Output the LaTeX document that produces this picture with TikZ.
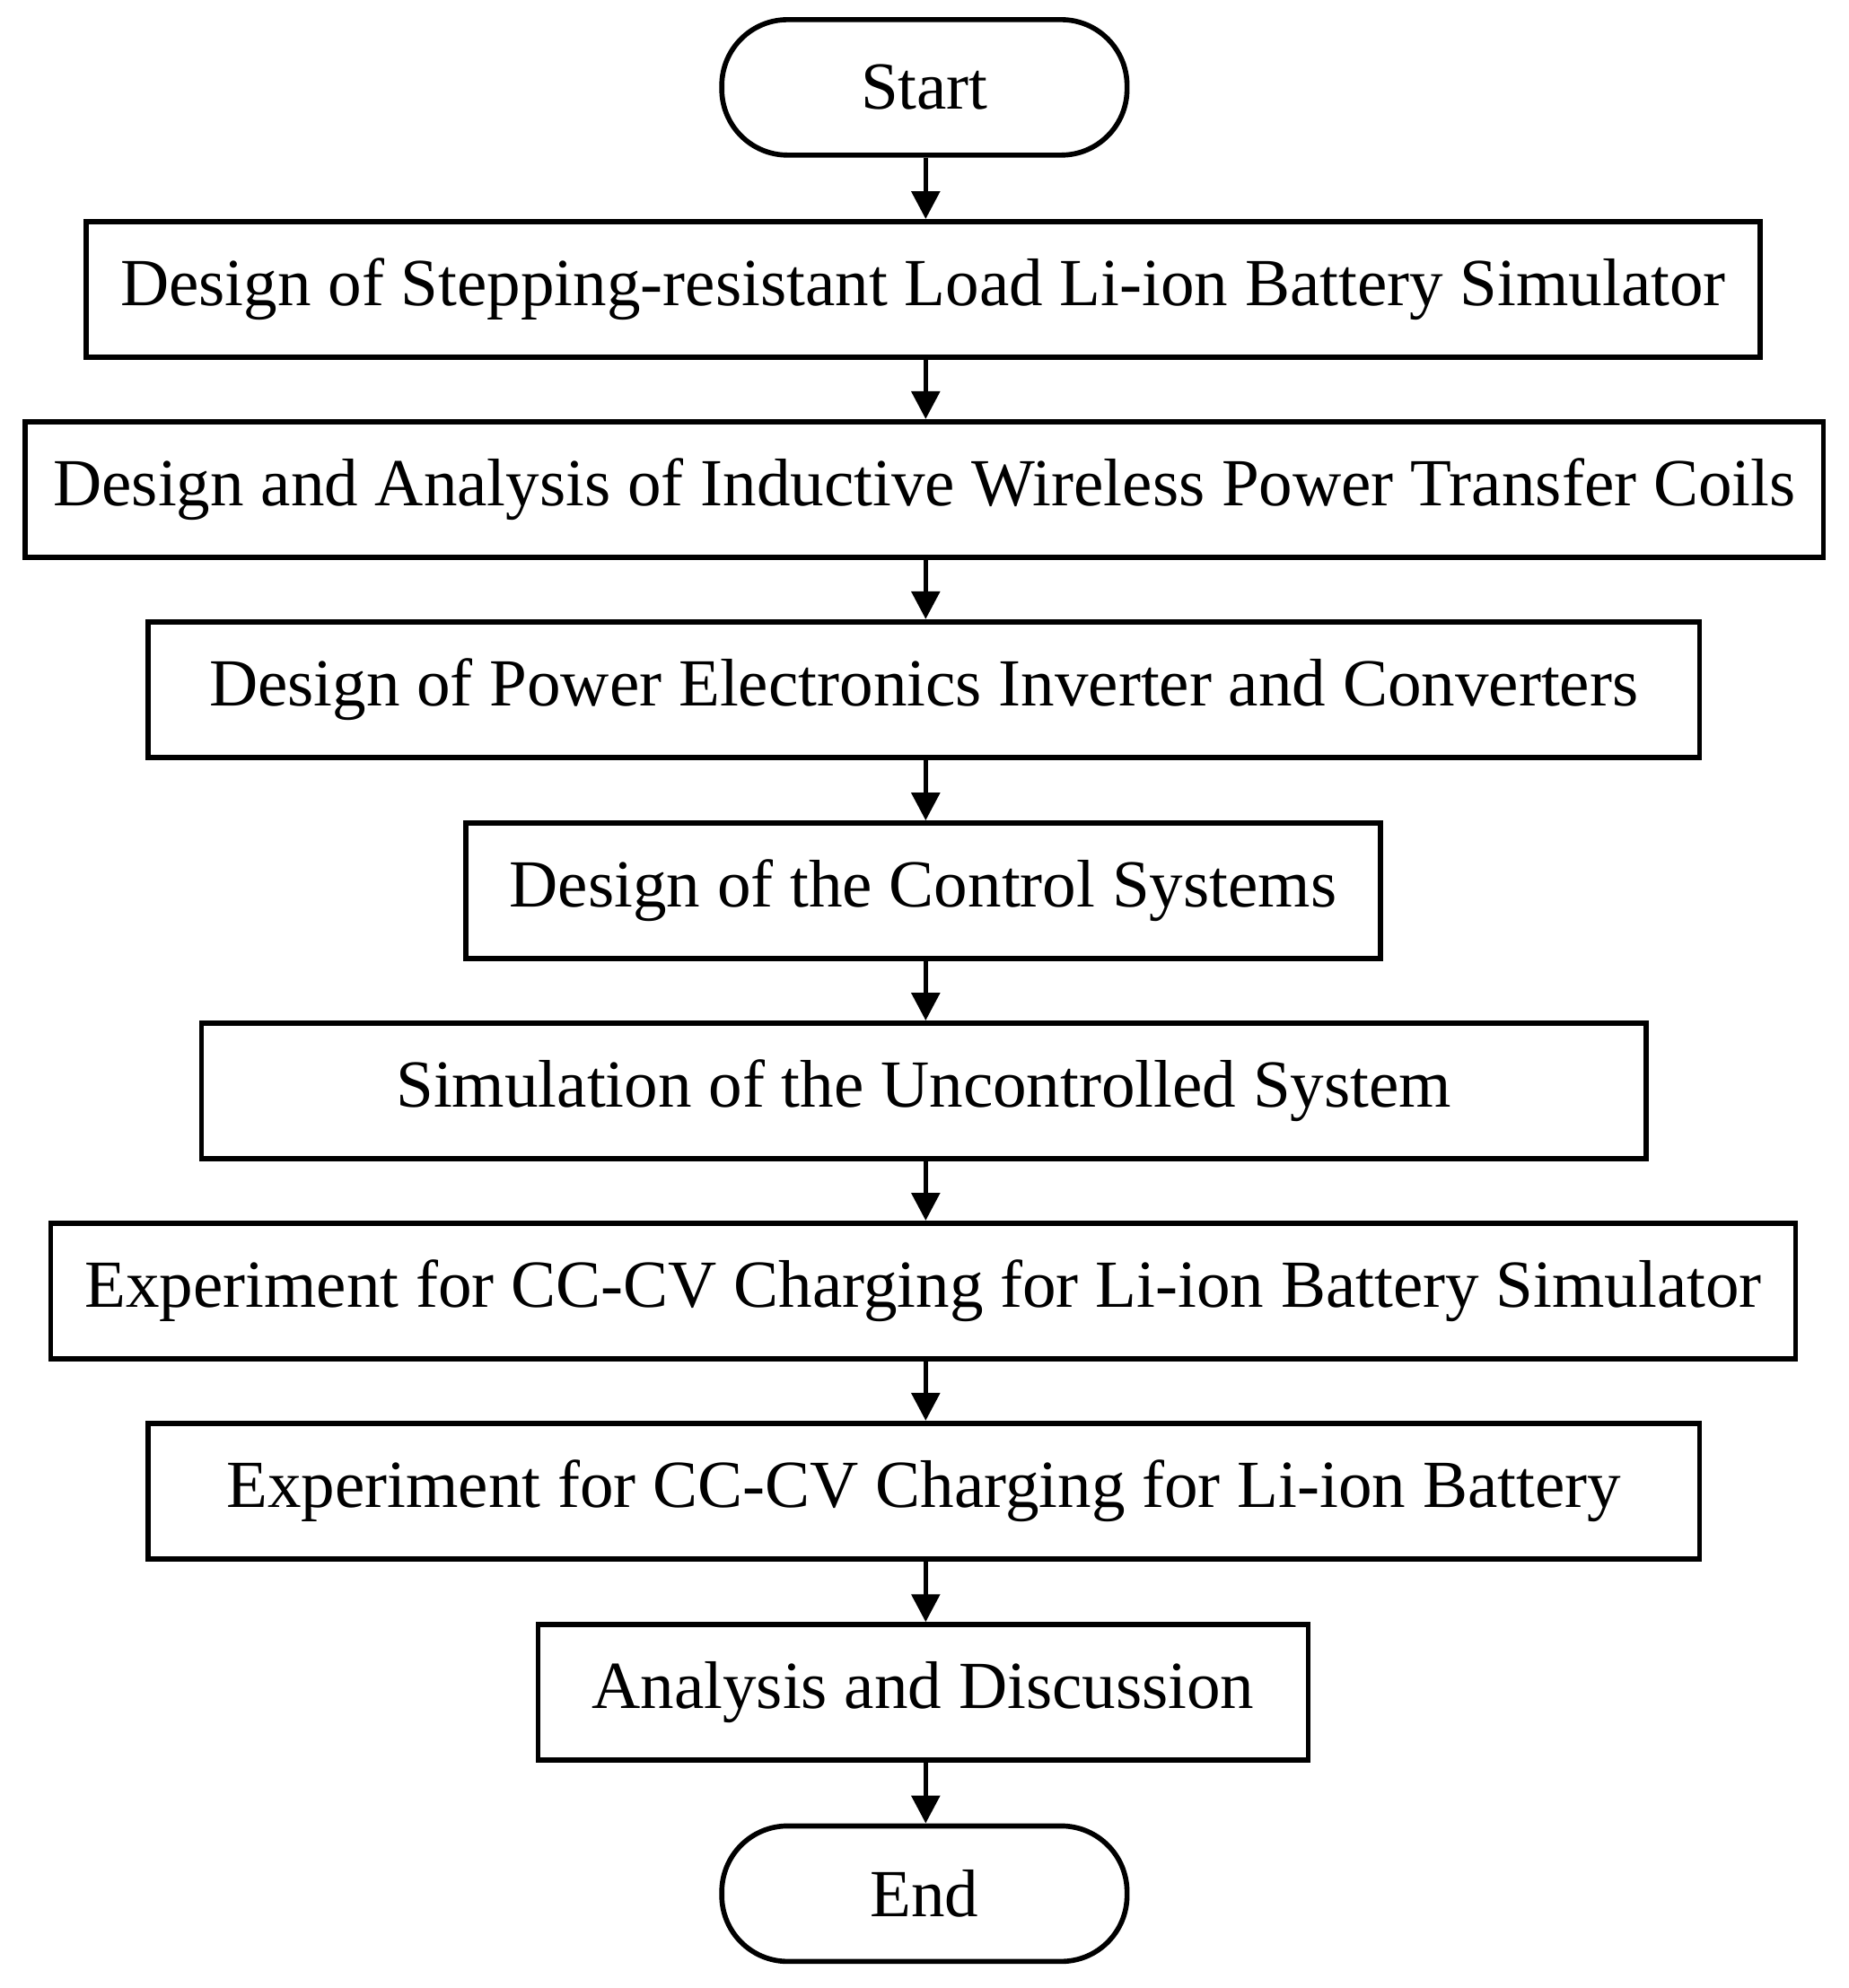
\documentclass[tikz,border=0pt]{standalone}
\usepackage{fontspec}
\setmainfont{Liberation Serif}
\usetikzlibrary{arrows.meta}
\begin{document}
\begin{tikzpicture}[x=0.5pt,y=-0.5pt,
 box/.style={draw,line width=2pt,rectangle,minimum height=53.5pt,inner sep=0pt,font=\fontsize{26.6}{30}\selectfont},
 term/.style={box,rounded corners=26pt},
 arr/.style={line width=2pt,-{Triangle[length=11pt,width=11pt]}}]
\useasboundingbox (0,0) rectangle (1460,1570);
\node[term,minimum width=160pt] (s) at (730,69) {Start};
\node[box,minimum width=661pt] (b1) at (729,228.5) {Design of Stepping-resistant Load Li-ion Battery Simulator};
\node[box,minimum width=710pt] (b2) at (730,386.5) {Design and Analysis of Inductive Wireless Power Transfer Coils};
\node[box,minimum width=612.5pt] (b3) at (729.5,544.5) {Design of Power Electronics Inverter and Converters};
\node[box,minimum width=361pt] (b4) at (729,703.5) {Design of the Control Systems};
\node[box,minimum width=570.5pt] (b5) at (729.5,861.5) {Simulation of the Uncontrolled System};
\node[box,minimum width=689pt] (b6) at (729,1019.5) {Experiment for CC-CV Charging for Li-ion Battery Simulator};
\node[box,minimum width=612.5pt] (b7) at (729.5,1177.5) {Experiment for CC-CV Charging for Li-ion Battery};
\node[box,minimum width=304pt] (b8) at (729,1336.5) {Analysis and Discussion};
\node[term,minimum width=160pt] (e) at (730,1495.5) {End};
\foreach \a/\b in {s/b1,b1/b2,b2/b3,b3/b4,b4/b5,b5/b6,b6/b7,b7/b8,b8/e}
 \draw[arr] (\a.south -| 731,0) -- (\b.north -| 731,0);
\end{tikzpicture}
\end{document}
